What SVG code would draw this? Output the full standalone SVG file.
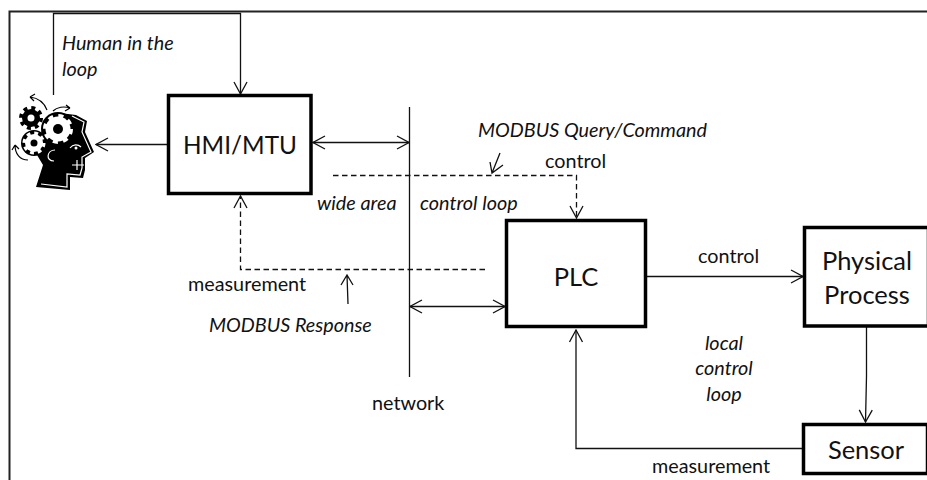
<svg xmlns="http://www.w3.org/2000/svg" width="927" height="480" viewBox="0 0 927 480">
<defs>
<style>
text{font-family:"Lato","Carlito","Open Sans",sans-serif;fill:#111}
.l{font-size:19.8px}
.i{font-size:19.8px;font-style:italic}
.b{font-size:25.5px}
.box{fill:#fff;stroke:#000;stroke-width:3.5}
.c{fill:none;stroke:#111;stroke-width:1.3}
.d{fill:none;stroke:#111;stroke-width:1.3;stroke-dasharray:5.500 3.500}
.g{fill:#000}
.w{fill:#fff}
.tw{fill:none;stroke:#fff;stroke-width:4}
.tk{fill:none;stroke:#000;stroke-width:4}
</style>
<marker id="ah" viewBox="-13 -8 14 16" refX="0" refY="0" markerWidth="14" markerHeight="16" markerUnits="userSpaceOnUse" orient="auto-start-reverse"><path d="M-12,-6.500L0,0L-12,6.500" fill="none" stroke="#111" stroke-width="1.300"/></marker>
</defs>
<rect width="927" height="480" fill="#fff"/>
<rect x="9.500" y="11.500" width="930" height="480" fill="none" stroke="#222" stroke-width="2"/>
<g id="connectors">
<path class="c" d="M53.500,95V13.500H240.500V94" marker-end="url(#ah)"/>
<path class="c" d="M168,144.500H96" marker-end="url(#ah)"/>
<path class="c" d="M313,142.500H409" marker-start="url(#ah)" marker-end="url(#ah)"/>
<path class="c" d="M409.500,107V377"/>
<path class="d" d="M333,175.500H576.500V218" marker-end="url(#ah)"/>
<path class="d" d="M485,269.500H240.500V196" marker-end="url(#ah)"/>
<path class="c" d="M410,306.500H505" marker-start="url(#ah)" marker-end="url(#ah)"/>
<path class="c" d="M647,276.500H803" marker-end="url(#ah)"/>
<path class="c" d="M866.500,327V376L865.500,422" marker-end="url(#ah)"/>
<path class="c" d="M802,448.500H576V330" marker-end="url(#ah)"/>
<path class="c" d="M500,153L492,173M490,162L492,173L503,165"/>
<path class="c" d="M348,304L347,275M341,285L347,275L353,285"/>
</g>
<g id="head">
<path class="g" d="M48,118L60,113L76,115L87,121L85,132L94,152L85,158L85,170L83,178L70,177L70,190L36,187L43,165L37,155L42,130Z"/>
<path d="M72,116L84,122L82,132L91,152L82,157L82,168L80,175L67,174L67,187L41,184" fill="none" stroke="#fff" stroke-width="1.200"/>
<circle class="g" cx="31" cy="118" r="9"/>
<circle class="tk" cx="31" cy="118" r="10" stroke-dasharray="3.900 3.950"/>
<circle class="w" cx="31" cy="118" r="3.500"/>
<circle class="g" cx="34" cy="143" r="13"/>
<circle class="w" cx="34" cy="143" r="9"/>
<circle class="tw" cx="34" cy="143" r="9.500" stroke-dasharray="3.700 3.750"/>
<circle class="g" cx="34" cy="143" r="3.500"/>
<circle class="g" cx="58" cy="129" r="17"/>
<circle class="w" cx="58" cy="129" r="12.500"/>
<circle class="tw" cx="58" cy="129" r="13" stroke-dasharray="5 5.200"/>
<circle class="g" cx="58" cy="129" r="5"/>
<path d="M55,150C47,150 45,161 54,161M70,148C73,144 78,144 81,147M77,160V170M84,165H72" fill="none" stroke="#fff" stroke-width="1.200"/>
<circle class="w" cx="76" cy="148" r="1.500"/>
<path d="M47,110C44,102 38,98 30,97M30,97L35,94M30,97L34,101M53,111C57,107 64,106 70,108M70,108L66,105M70,108L65,111M28,160C20,160 15,154 15,145M15,145L12,150M15,145L19,149" fill="none" stroke="#000" stroke-width="1.200"/>
</g>
<g id="hmi"><rect class="box" x="168.500" y="95.500" width="142.500" height="98"/><text class="b" x="240" y="154" text-anchor="middle" textLength="114" lengthAdjust="spacingAndGlyphs">HMI/MTU</text></g>
<g id="plc"><rect class="box" x="506.500" y="220.500" width="139" height="106"/><text class="b" x="576" y="286" text-anchor="middle">PLC</text></g>
<g id="process"><rect class="box" x="804.500" y="227.500" width="124" height="98.500"/><text class="b" x="867" y="270" text-anchor="middle">Physical</text><text class="b" x="867" y="304" text-anchor="middle">Process</text></g>
<g id="sensor"><rect class="box" x="803.500" y="424.500" width="124" height="49"/><text class="b" x="866" y="459" text-anchor="middle">Sensor</text></g>
<g id="labels">
<text class="i" x="62" y="50">Human in the</text>
<text class="i" x="62" y="76">loop</text>
<text class="i" x="478" y="137">MODBUS Query/Command</text>
<text class="l" x="545" y="168">control</text>
<text class="i" x="317" y="210">wide area</text>
<text class="i" x="420" y="210">control loop</text>
<text class="l" x="188" y="291">measurement</text>
<text class="i" x="209" y="332">MODBUS Response</text>
<text class="l" x="372" y="410">network</text>
<text class="l" x="698" y="263">control</text>
<text class="i" x="724" y="350" text-anchor="middle">local</text>
<text class="i" x="724" y="375" text-anchor="middle">control</text>
<text class="i" x="724" y="401" text-anchor="middle">loop</text>
<text class="l" x="652" y="473">measurement</text>
</g>
</svg>
